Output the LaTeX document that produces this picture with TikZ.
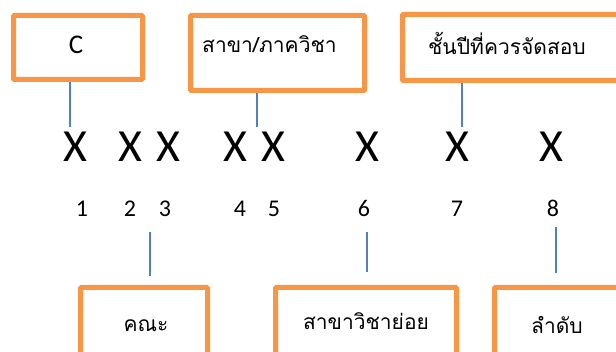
\documentclass[tikz,border=0pt]{standalone}
\usepackage{fontspec}
\setmainfont{Carlito}
\newfontfamily\thaifont[Script=Thai]{Loma}
\definecolor{boxorange}{HTML}{F79646}
\definecolor{lineblue}{HTML}{4F81BD}
\tikzset{
  obox/.style={draw=boxorange, line width=5pt, fill=white, rounded corners=1pt, inner sep=0pt},
  conn/.style={draw=lineblue, line width=2.5pt},
  bigx/.style={inner sep=0pt, font=\fontsize{46}{50}\selectfont},
  num/.style={inner sep=0pt, anchor=base, font=\fontsize{24}{28}\selectfont},
  thai/.style={inner sep=0pt, anchor=base, font=\thaifont\fontsize{21}{26}\selectfont},
}
\begin{document}
\begin{tikzpicture}[x=1pt, y=-1pt]
\useasboundingbox (0,0) rectangle (616,352);
% top boxes
\node[obox, minimum width=129pt, minimum height=64pt] (b1) at (78,47.5) {};
\node[obox, minimum width=174pt, minimum height=75pt] (b2) at (277.5,53) {};
\node[obox, minimum width=222.5pt, minimum height=66pt] (b3) at (513.75,47.5) {};
% bottom boxes
\node[obox, minimum width=127pt, minimum height=68.5pt] (b4) at (144,321.75) {};
\node[obox, minimum width=181pt, minimum height=68.5pt] (b5) at (366,321.75) {};
\node[obox, minimum width=130.5pt, minimum height=68.5pt] (b6) at (559.75,321.75) {};
% box texts
\node[inner sep=0pt, anchor=base, font=\fontsize{27}{30}\selectfont] (tc) at (76,53.3) {C};
\node[thai, anchor=base west] (t2) at (202,53) {สาขา/ภาควิชา};
\node[thai, anchor=base west] (t3) at (428,55) {ชั้นปีที่ควรจัดสอบ};
\node[thai] (t4) at (146,332) {คณะ};
\node[thai] (t5) at (366,330) {สาขาวิชาย่อย};
\node[thai] (t6) at (557,334) {ลำดับ};
% X row
\node[bigx] (x1) at (75,147) {X};
\node[bigx] (x2) at (130,147) {X};
\node[bigx] (x3) at (168.5,147) {X};
\node[bigx] (x4) at (235,147) {X};
\node[bigx] (x5) at (273.5,147) {X};
\node[bigx] (x6) at (367,147) {X};
\node[bigx] (x7) at (457,147) {X};
\node[bigx] (x8) at (551,147) {X};
% numbers
\node[num] (n1) at (82,217) {1};
\node[num] (n2) at (130,217) {2};
\node[num] (n3) at (165,217) {3};
\node[num] (n4) at (240,217) {4};
\node[num] (n5) at (274,217) {5};
\node[num] (n6) at (364,217) {6};
\node[num] (n7) at (457,217) {7};
\node[num] (n8) at (553,217) {8};
% connector end points
\coordinate (e1) at (70,127);
\coordinate (e2) at (257,127);
\coordinate (e3) at (462,127);
\coordinate (f1a) at (150,232);
\coordinate (f1b) at (150,276);
\coordinate (f2a) at (367,232);
\coordinate (f2b) at (367,272);
\coordinate (f3a) at (556,227);
\coordinate (f3b) at (556,273);
% connectors
\draw[conn] (b1.south -| e1) -- (e1);
\draw[conn] (b2.south -| e2) -- (e2);
\draw[conn] (b3.south -| e3) -- (e3);
\draw[conn] (f1a) -- (f1b);
\draw[conn] (f2a) -- (f2b);
\draw[conn] (f3a) -- (f3b);
\end{tikzpicture}
\end{document}
